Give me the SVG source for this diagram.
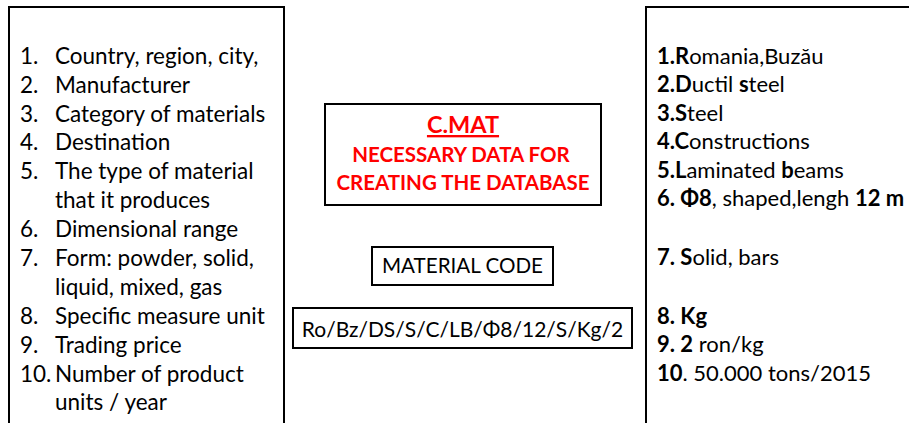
<svg xmlns="http://www.w3.org/2000/svg" width="909" height="423" viewBox="0 0 909 423">
<style>
.box{fill:#fff;stroke:#000;stroke-width:2}
.t{font-family:Lato,"Open Sans","Liberation Sans",sans-serif;font-size:22.5px;fill:#000}
.rt{font-size:22px}
.mc{font-size:20.6px;text-anchor:middle}
.cd{font-size:21px;text-anchor:middle}
.r{font-family:Lato,"Open Sans","Liberation Sans",sans-serif;font-weight:bold;fill:#ff0000;text-anchor:middle;font-size:20.5px}
.rh{font-size:23.5px;text-decoration:underline}
.b{font-weight:bold}
</style>
<rect width="909" height="423" fill="#fff"/>
<g id="left-list">
<path class="box" d="M9,425 V7 H284 V425"/>
<text class="t" x="20" y="64">1.</text><text class="t" x="55" y="64">Country, region, city,</text>
<text class="t" x="20" y="93">2.</text><text class="t" x="55" y="93">Manufacturer</text>
<text class="t" x="20" y="122">3.</text><text class="t" x="55" y="122">Category of materials</text>
<text class="t" x="20" y="150">4.</text><text class="t" x="55" y="150">Destination</text>
<text class="t" x="20" y="179">5.</text><text class="t" x="55" y="179">The type of material</text>
<text class="t" x="55" y="208">that it produces</text>
<text class="t" x="20" y="237">6.</text><text class="t" x="55" y="237">Dimensional range</text>
<text class="t" x="20" y="266">7.</text><text class="t" x="55" y="266">Form: powder, solid,</text>
<text class="t" x="55" y="295">liquid, mixed, gas</text>
<text class="t" x="20" y="324">8.</text><text class="t" x="55" y="324">Specific measure unit</text>
<text class="t" x="20" y="353">9.</text><text class="t" x="55" y="353">Trading price</text>
<text class="t" x="20" y="382">10.</text><text class="t" x="55" y="382">Number of product</text>
<text class="t" x="55" y="410">units / year</text>
</g>
<g id="cmat">
<rect class="box" x="325" y="104" width="276" height="101"/>
<text class="r rh" x="463" y="133">C.MAT</text>
<text class="r" x="461" y="162">NECESSARY DATA FOR</text>
<text class="r" x="463" y="190">CREATING THE DATABASE</text>
</g>
<g id="material-code">
<rect class="box" x="372" y="247" width="181" height="38"/>
<text class="t mc" x="462.500" y="273">MATERIAL CODE</text>
</g>
<g id="code">
<rect class="box" x="293" y="308" width="339" height="40"/>
<text class="t cd" x="462.500" y="337">Ro/Bz/DS/S/C/LB/Φ8/12/S/Kg/2</text>
</g>
<g id="right-list">
<path class="box" d="M646,425 V7 H912"/>
<text class="t rt" x="657" y="64"><tspan class="b">1.R</tspan>omania,Buzău</text>
<text class="t rt" x="657" y="92"><tspan class="b">2.D</tspan>uctil <tspan class="b">s</tspan>teel</text>
<text class="t rt" x="657" y="121"><tspan class="b">3.S</tspan>teel</text>
<text class="t rt" x="657" y="149"><tspan class="b">4.C</tspan>onstructions</text>
<text class="t rt" x="657" y="178"><tspan class="b">5.L</tspan>aminated <tspan class="b">b</tspan>eams</text>
<text class="t rt" x="657" y="206"><tspan class="b">6. Φ8</tspan>, shaped,lengh <tspan class="b">12 m</tspan></text>
<text class="t rt" x="657" y="265"><tspan class="b">7. S</tspan>olid, bars</text>
<text class="t rt" x="657" y="324"><tspan class="b">8. Kg</tspan></text>
<text class="t rt" x="657" y="352"><tspan class="b">9. 2</tspan> ron/kg</text>
<text class="t rt" x="657" y="381"><tspan class="b">10</tspan>. 50.000 tons/2015</text>
</g>
</svg>
